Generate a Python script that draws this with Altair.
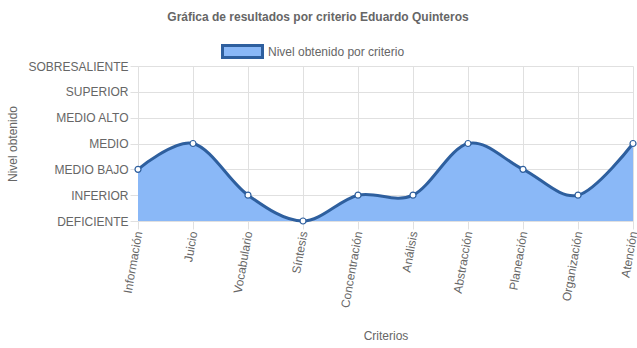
import altair as alt
import pandas as pd

criterios = ["Información", "Juicio", "Vocabulario", "Síntesis", "Concentración",
             "Análisis", "Abstracción", "Planeación", "Organización", "Atención"]
niveles = [2, 3, 1, 0, 1, 1, 3, 2, 1, 3]
etiquetas = ["DEFICIENTE", "INFERIOR", "MEDIO BAJO", "MEDIO", "MEDIO ALTO",
             "SUPERIOR", "SOBRESALIENTE"]
serie = "Nivel obtenido por criterio"
titulo = "Gráfica de resultados por criterio Eduardo Quinteros"

df = pd.DataFrame({"criterio": criterios, "nivel": niveles, "serie": [serie] * len(criterios)})

FONT = "Liberation Sans"
GREY = "#666666"
GRID = "#e0e0e0"
LINE = "#2e5f9e"
FILL = "#8ab8f7"

label_expr = "[" + ",".join(f"'{e}'" for e in etiquetas) + "][datum.value]"

x = alt.X("criterio:N", sort=criterios, title="Criterios",
          scale=alt.Scale(type="point", padding=0),
          axis=alt.Axis(labelAngle=-80, labelFontSize=12, labelColor=GREY, labelFont=FONT,
                        titleFont=FONT, titleFontSize=12, titleColor=GREY, titleFontWeight="normal",
                        titleY=114, titleBaseline="middle",
                        grid=True, gridColor=GRID, tickColor=GRID, tickSize=8,
                        domainColor=GRID, labelPadding=2))
y = alt.Y("nivel:Q", title="Nivel obtenido",
          scale=alt.Scale(domain=[0, 6], nice=False, zero=True),
          axis=alt.Axis(values=list(range(len(etiquetas))), labelExpr=label_expr,
                        labelFontSize=12, labelColor=GREY, labelFont=FONT,
                        titleFont=FONT, titleFontSize=12, titleColor=GREY, titleFontWeight="normal",
                        titleX=-126, titleBaseline="middle", titleAngle=-90,
                        grid=True, gridColor=GRID, tickColor=GRID, tickSize=8,
                        domainColor=GRID, labelPadding=2))

base = alt.Chart(df)

area = base.mark_area(interpolate="cardinal", tension=0, line=False).encode(
    x=x, y=y,
    fill=alt.Fill("serie:N", scale=alt.Scale(range=[FILL]),
                  legend=alt.Legend(title=None, orient="none", legendX=83, legendY=-36,
                                    symbolType="M-1,-0.3H1V0.3H-1Z", symbolSize=1600,
                                    symbolStrokeColor=LINE, symbolStrokeWidth=3,
                                    symbolFillColor=FILL, symbolOpacity=1,
                                    labelFont=FONT, labelFontSize=12, labelColor=GREY,
                                    labelOffset=4)),
    opacity=alt.value(1),
)
line = base.mark_line(interpolate="cardinal", tension=0, color=LINE, strokeWidth=3).encode(x=x, y=y)
points = base.mark_point(filled=True, fill="white", stroke=LINE, strokeWidth=1.2, size=36,
                         opacity=1).encode(x=x, y=y)

title_df = pd.DataFrame({"t": [titulo]})
title_mark = alt.Chart(title_df).mark_text(font=FONT, fontSize=12, fontWeight="bold",
                                            color=GREY, align="center", baseline="middle").encode(
    x=alt.value(318 - 138), y=alt.value(17 - 66), text="t:N")

chart = alt.layer(area, line, points, title_mark).properties(
    width=495, height=155,
    padding={"left": 138, "top": 66, "right": 4, "bottom": 127},
    autosize=alt.AutoSizeParams(type="none"),
).configure_view(stroke=None)

chart.save("out.html", embed_options={"renderer": "svg", "actions": False})
